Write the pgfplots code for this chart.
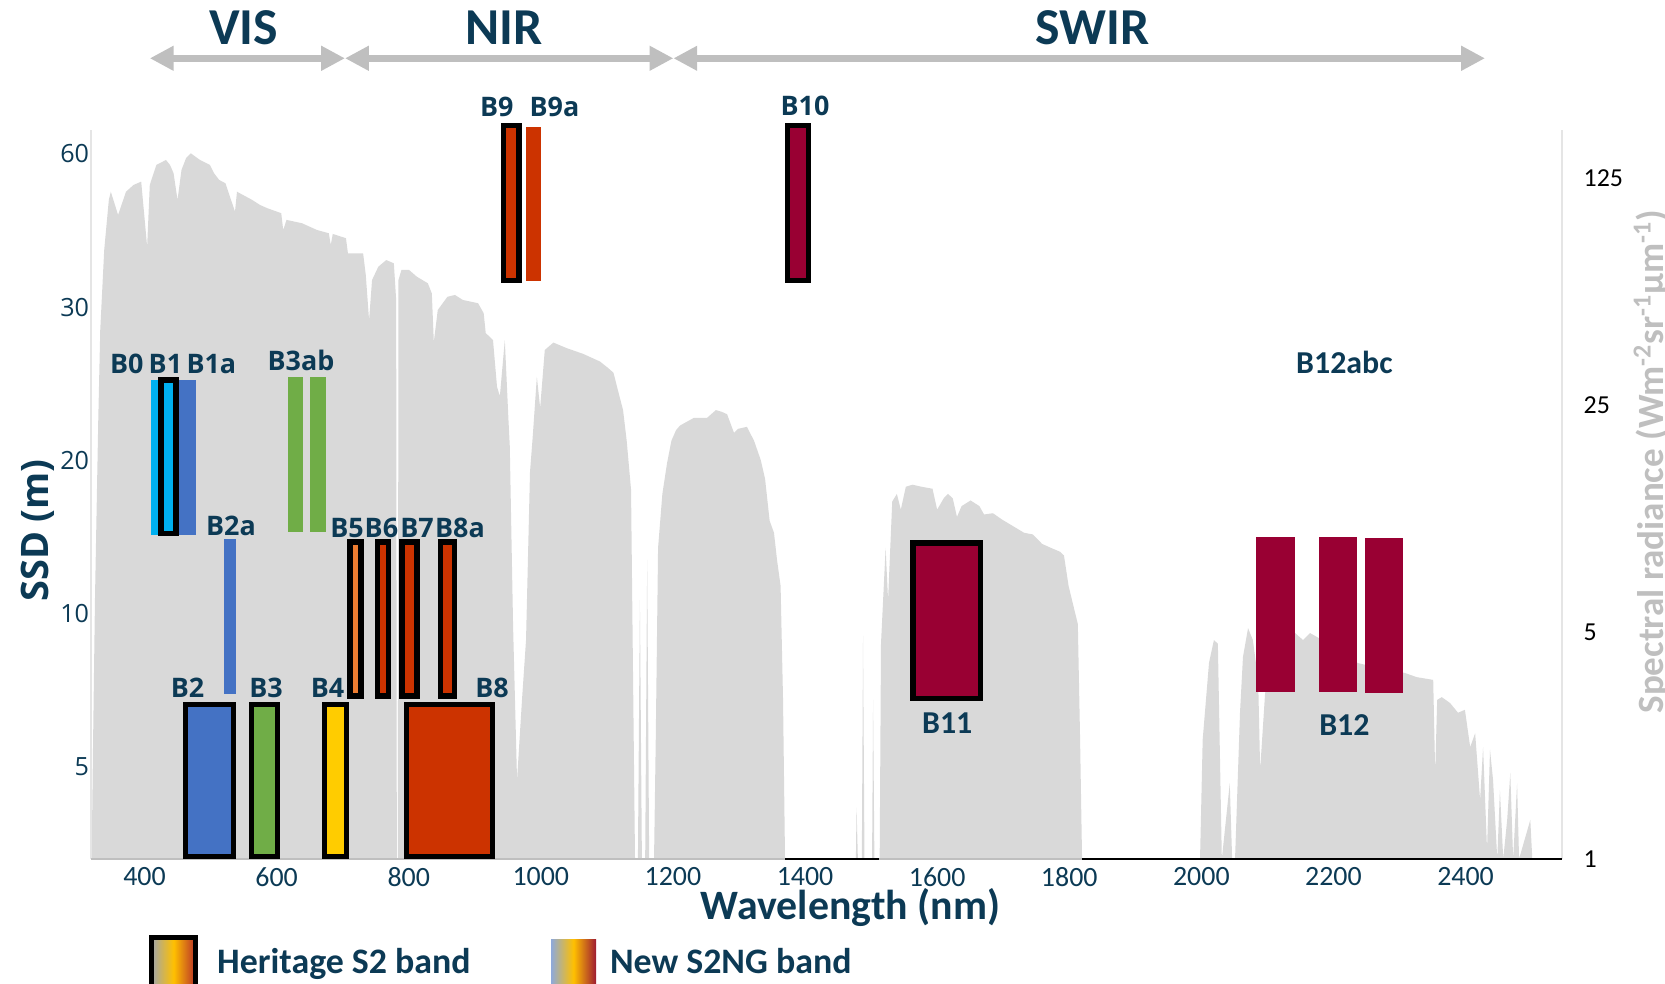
\documentclass[border=0pt]{standalone}
\usepackage{fontspec}
\setmainfont{Carlito}
\newfontfamily\osans{Open Sans}
\usepackage{pgfplots}
\pgfplotsset{compat=1.18}
\usetikzlibrary{arrows.meta}
\definecolor{navy}{HTML}{0C3A55}
\definecolor{specgray}{HTML}{D9D9D9}
\definecolor{lgray}{HTML}{BFBFBF}
\definecolor{bcyan}{HTML}{00B0F0}
\definecolor{bblue}{HTML}{4472C4}
\definecolor{bgreen}{HTML}{70AD47}
\definecolor{byellow}{HTML}{FFCC00}
\definecolor{borange}{HTML}{ED7D31}
\definecolor{bred}{HTML}{CC3300}
\definecolor{bcrim}{HTML}{990033}
\definecolor{lgA}{HTML}{A0A6AD}
\definecolor{lgB}{HTML}{FFC000}
\definecolor{lgC}{HTML}{B8302A}
\definecolor{lnA}{HTML}{8EA9DB}
\definecolor{lnC}{HTML}{9E1B32}
\tikzset{
  newband/.style={fill=#1, draw=none},
  heritage/.style={fill=#1, draw=black, line width=2.7bp, line join=miter}
}
\newcommand{\band}[5]{\addplot[#1] coordinates {(#2,#4) (#3,#4) (#3,#5) (#2,#5)} -- cycle;}
\newcommand{\bl}{\osans\bfseries\fontsize{13.5}{13.5}\selectfont}
\newcommand{\bc}{\bfseries\fontsize{16}{16}\selectfont}
\begin{document}
\begin{tikzpicture}
% ---------- spectrum (right axis, log base 5) ----------
\begin{axis}[
  at={(0,0)}, anchor=south west, scale only axis,
  width=735.5bp, height=364.5bp,
  xmin=319, xmax=2546,
  ymode=log, log basis y=5, ymin=1, ymax=175.5,
  xtick=\empty,
  ytick={1,5,25,125}, yticklabels={1,5,25,125},
  yticklabel pos=right,
  yticklabel style={anchor=west, inner sep=0pt, xshift=10.6bp, font=\fontsize{13}{13}\selectfont, text=black},
  major tick length=0pt,
  axis line style={draw=none},
  clip=false,
  /pgf/number format/assume math mode=true,
]
\addplot[fill=specgray, draw=none] coordinates {
(320,1) (322,2.17) (325,6.27) (330,22.5) (333,42.5) (339,75.0) (346,106.9) (349,113.3)
(360,96.1) (372,113.3) (383.5,118.9) (395,121.7) (404,76.8) (408,118.9) (418,137.0)
(432.5,141.9) (438.6,137.0) (444,129.2) (450,106.9) (456,132.2) (463,143.9) (470,148.8)
(484,141.9) (499,137.0) (505,129.4) (513,123.2) (522.5,120.3) (537,98.4) (540,113.3)
(563,106.9) (575,103.1) (586,100.8) (607,97.3) (610,86.4) (615,92.8) (638.5,90.6)
(661,86.4) (679,84.4) (682,77.7) (685,84.0) (705,81.5) (708,73.2) (731,73.2) (735,62.8)
(740,45.6) (744.5,60.6) (754,66.6) (766,69.8) (777.5,68.2) (781,52.6) (782,1) (783.5,1)
(784.5,60.6) (789,65.1) (800.5,65.1) (812,62.1) (829,59.2) (835,55.1) (838,39.1) (844,49.0)
(858.6,53.8) (870,54.5) (882,52.6) (905,51.4) (913.5,47.9) (916.6,41.6) (927.6,39.6)
(933.7,28.4) (938,26.6) (945.5,39.6) (951,22.5) (953,18.7) (958,5.22) (964,1.75)
(971.5,3.09) (977.6,4.72) (983.6,15.5) (988,20.3) (994,30.5) (999,24.5) (1006,36.9)
(1019,38.9) (1039,37.4) (1064,35.9) (1089.6,34.0) (1101.7,32.5) (1110,31.4) (1117,27.6)
(1124.5,24.1) (1130,19.4) (1136.6,13.7) (1140,3.09) (1142.6,1) (1147,1) (1150,6.27)
(1153,1) (1158,1) (1161,8.33) (1164,1) (1171.4,1) (1174,2.34) (1177.5,9.07) (1184,13.3)
(1191,16.5) (1197.7,19.4) (1204.7,20.9) (1210.7,21.6) (1231.6,22.8) (1251.6,22.8)
(1265,24.1) (1274,23.8) (1282,23.4) (1292.5,20.5) (1298.6,21.1) (1312,21.4) (1322.8,19.4)
(1333,16.9) (1339.5,14.8) (1346.4,11.0) (1353,10.1) (1357.6,8.33) (1363,6.93) (1366.7,3.09)
(1369.7,1) (1477,1) (1478,1.44) (1480,1) (1486,1) (1487.8,4.86) (1490,1) (1501.5,1)
(1503,3.09) (1505,1) (1513,1) (1515,4.60) (1522,9.07) (1525.7,6.27) (1532,12.6) (1539,13.3)
(1545,11.9) (1552.6,14.0) (1562.7,14.2) (1576,14.0) (1593,13.8) (1600,11.9) (1610,12.9)
(1616.5,13.3) (1623.6,12.9) (1630,11.3) (1637,12.2) (1650.6,12.7) (1664,12.2) (1671,11.5)
(1684.5,11.6) (1698,11.1) (1711,10.7) (1731.6,10.1) (1745,9.98) (1759,9.33) (1772.5,9.07)
(1786,8.83) (1792,8.60) (1799,6.93) (1806,6.05) (1813,5.29) (1816.4,2.34) (1819.4,1)
(1998,1) (2002,2.33) (2011.6,4.02) (2019,4.72) (2025,4.60) (2031,1) (2043,1.71) (2046.6,1)
(2051,1) (2058.5,2.82) (2063,4.19) (2070.7,5.14) (2078,4.72) (2086,3.56) (2089,1.88)
(2096.5,3.24) (2111.6,4.40) (2142,4.96) (2154,4.72) (2164.5,4.96) (2174.7,4.83) (2195,4.56)
(2217,4.25) (2237,4.01) (2270,3.87) (2308,3.74) (2326,3.63) (2351,3.56) (2354,1.84)
(2357,3.09) (2364,3.15) (2376.6,3.02) (2388.6,2.82) (2399,2.88) (2407,2.21) (2414.5,2.44)
(2422,1.52) (2426.5,2.21) (2432.5,1.07) (2437,2.17) (2441.6,1.75) (2448,1) (2452,1.63)
(2457,1) (2463,1.32) (2467.7,1.84) (2472,1) (2478,1.71) (2481,1) (2498,1.32) (2501,1) (2546,1)
} \closedcycle;
\draw[color=lgray!40, line width=0.6bp] (rel axis cs:0,0) -- (rel axis cs:0,1);
\draw[color=lgray!40, line width=0.6bp] (rel axis cs:1,0) -- (rel axis cs:1,1);
\draw[color=lgray, line width=0.65bp] (rel axis cs:0,0) -- (rel axis cs:1,0);
\addplot[black, line width=0.65bp] coordinates {(1370,1) (1512,1)};
\addplot[black, line width=0.65bp] coordinates {(1819,1) (2546,1)};
\end{axis}
% ---------- bands (left axis, SSD) ----------
\begin{axis}[
  at={(0,0)}, anchor=south west, scale only axis,
  width=735.5bp, height=364.5bp,
  xmin=319, xmax=2546, ymin=0, ymax=4.755,
  clip=false,
  axis line style={draw=none},
  major tick length=0pt,
  xtick={400,600,800,1000,1200,1400,1600,1800,2000,2200,2400},
  xticklabels={400,600,800,1000,1200,1400,1600,1800,2000,2200,2400},
  xticklabel style={anchor=north, inner sep=0pt, yshift=-3.9bp, font=\fontsize{14}{14}\selectfont, text=navy},
  ytick={0.6,1.6,2.6,3.6,4.6}, yticklabels={5,10,20,30,60},
  yticklabel style={anchor=east, inner sep=0pt, xshift=-0.8bp, font=\osans\fontsize{12.6}{12.6}\selectfont, text=navy},
  /pgf/number format/assume math mode=true,
]
% new S2NG bands
\band{newband=bcyan}{410}{440}{2.116}{3.125}
\band{newband=bblue}{449}{477.5}{2.116}{3.125}
\band{newband=bgreen}{616.5}{639.8}{2.134}{3.144}
\band{newband=bgreen}{650.6}{674.3}{2.134}{3.144}
\band{newband=bblue}{520.8}{538.7}{1.079}{2.087}
\band{newband=bred}{977}{1001}{3.768}{4.772}
\band{newband=bcrim}{2083.1}{2141.1}{1.089}{2.100}
\band{newband=bcrim}{2178.1}{2235.9}{1.089}{2.100}
\band{newband=bcrim}{2247.3}{2305.1}{1.083}{2.094}
% heritage S2 bands
\band{heritage=bcyan}{424.8}{447.5}{2.122}{3.123}
\band{heritage=bblue}{462.2}{535.0}{0.0176}{1.006}
\band{heritage=bgreen}{562.1}{601.7}{0.0176}{1.006}
\band{heritage=byellow}{672.5}{705.4}{0.0176}{1.006}
\band{heritage=bred}{796.4}{927.2}{0.0176}{1.006}
\band{heritage=borange}{711.4}{727.6}{1.062}{2.068}
\band{heritage=bred}{753.1}{769.7}{1.062}{2.068}
\band{heritage=bred}{789.9}{812.4}{1.062}{2.068}
\band{heritage=bred}{847.7}{869.2}{1.062}{2.068}
\band{heritage=bred}{943.8}{967.0}{3.772}{4.783}
\band{heritage=bcrim}{1373.3}{1405.4}{3.772}{4.783}
\band{heritage=bcrim}{1563.5}{1665.9}{1.048}{2.062}
\end{axis}
% ---------- band labels ----------
\begin{scope}[every node/.style={inner sep=0pt, text=navy}]
\node[font=\bl] at (17.9bp,247.5bp) {B0};
\node[font=\bl] at (37.2bp,247.5bp) {B1};
\node[font=\bl] at (60.2bp,247.5bp) {B1a};
\node[font=\bl] at (105bp,249.5bp) {B3ab};
\node[font=\bl] at (70bp,166.5bp) {B2a};
\node[font=\bl] at (128bp,165.5bp) {B5};
\node[font=\bl] at (145.2bp,165.5bp) {B6};
\node[font=\bl] at (163bp,165.5bp) {B7};
\node[font=\bl] at (184.5bp,165.5bp) {B8a};
\node[font=\bl] at (48.25bp,85.5bp) {B2};
\node[font=\bl] at (87.5bp,85.5bp) {B3};
\node[font=\bl] at (118.25bp,85.5bp) {B4};
\node[font=\bl] at (200.5bp,85.5bp) {B8};
\node[font=\bl] at (202.9bp,376bp) {B9};
\node[font=\bl] at (231.7bp,376bp) {B9a};
\node[font=\bl] at (357bp,376.5bp) {B10};
\node[font=\bc] at (428.1bp,68bp) {B11};
\node[font=\bc] at (626.7bp,66.8bp) {B12};
\node[font=\bc] at (626.7bp,248.5bp) {B12abc};
% region arrows and titles
\draw[lgray, line width=3.3bp, {Triangle[width=11.7bp,length=11.9bp]}-{Triangle[width=11.7bp,length=11.9bp]}] (29.4bp,400.35bp) -- (127bp,400.35bp);
\draw[lgray, line width=3.3bp, {Triangle[width=11.7bp,length=11.9bp]}-{Triangle[width=11.7bp,length=11.9bp]}] (127bp,400.35bp) -- (291.2bp,400.35bp);
\draw[lgray, line width=3.3bp, {Triangle[width=11.7bp,length=11.9bp]}-{Triangle[width=11.7bp,length=11.9bp]}] (291.2bp,400.35bp) -- (697bp,400.35bp);
\node[anchor=base, font=\bfseries\fontsize{26}{26}\selectfont] at (76.3bp,407bp) {VIS};
\node[anchor=base, font=\bfseries\fontsize{26}{26}\selectfont] at (206.6bp,407bp) {NIR};
\node[anchor=base, font=\bfseries\fontsize{26}{26}\selectfont] at (500.6bp,407bp) {SWIR};
% axis titles
\node[anchor=base, font=\bfseries\fontsize{21}{21}\selectfont] at (379.8bp,-30bp) {Wavelength (nm)};
\node[rotate=90, anchor=base, font=\osans\bfseries\fontsize{19}{19}\selectfont] at (-21.35bp,164.25bp) {SSD (m)};
\node[rotate=90, anchor=base, text=lgray, font=\bfseries\fontsize{18.6}{18.6}\selectfont] at (786bp,198.75bp) {Spectral radiance (Wm\textsuperscript{-2}sr\textsuperscript{-1}µm\textsuperscript{-1})};
% legend
\draw[line width=2.5bp, draw=black, left color=lgA, right color=lgC, middle color=lgB] (30.25bp,-39.25bp) rectangle (52.4bp,-66bp);
\shade[left color=lnA, right color=lnC, middle color=lgB] (230bp,-40.15bp) rectangle (252.5bp,-66bp);
\node[anchor=base west, font=\bfseries\fontsize{18}{18}\selectfont] at (62.9bp,-57.2bp) {Heritage S2 band};
\node[anchor=base west, font=\bfseries\fontsize{18}{18}\selectfont] at (259.3bp,-57.2bp) {New S2NG band};
\end{scope}
\pgfresetboundingbox
\useasboundingbox (-45.5bp,-62.5bp) rectangle (787bp,429.5bp);
\end{tikzpicture}
\end{document}
